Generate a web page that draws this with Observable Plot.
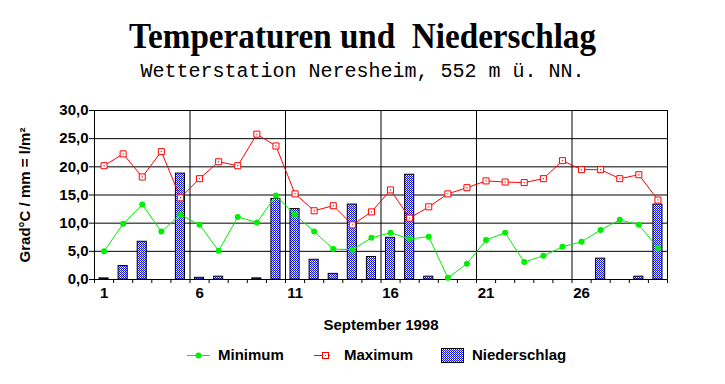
<!DOCTYPE html>
<html><head><meta charset="utf-8">
<script src="https://cdn.jsdelivr.net/npm/d3@7"></script>
<script src="https://cdn.jsdelivr.net/npm/@observablehq/plot@0.6"></script>
<style>
body{margin:0;background:#fff;width:725px;height:384px;overflow:hidden;font-family:"Liberation Sans",Arial,sans-serif;}
#head{position:relative;height:95px;width:725px;}
#title{position:absolute;top:18px;left:0;width:725px;text-align:center;}
#title span{display:inline-block;font-family:"Liberation Serif","Times New Roman",serif;font-weight:bold;font-size:36px;line-height:36px;white-space:pre;transform-origin:center;}
#sub{position:absolute;top:62px;left:0;width:725px;text-align:center;font-family:"Liberation Mono","Courier New",monospace;font-size:20px;line-height:20px;white-space:pre;}
#chart{height:240px;width:725px;}
#chart svg{display:block;}
#legend{position:relative;height:49px;width:725px;}
.lt{position:absolute;top:11px;font-weight:bold;font-size:15px;line-height:18px;white-space:pre;}
.sw{position:absolute;}
</style></head>
<body>
<div id="head"><div id="title"><span>Temperaturen und  Niederschlag</span></div><div id="sub">Wetterstation Neresheim, 552 m ü. NN.</div></div>
<div id="chart"></div>
<div id="legend">
  <svg class="sw" style="left:186px;top:14px" width="26" height="12"><line x1="1" y1="6.5" x2="24" y2="6.5" stroke="#00ee00"/><circle cx="12.5" cy="6.5" r="3" fill="#00ee00"/></svg>
  <div class="lt" style="left:218px">Minimum</div>
  <svg class="sw" style="left:313px;top:14px" width="20" height="12"><line x1="1" y1="6.5" x2="17" y2="6.5" stroke="red"/><rect x="9.5" y="3.5" width="6" height="6" fill="white" stroke="red"/><rect x="12" y="6" width="1" height="1" fill="red"/></svg>
  <div class="lt" style="left:344px">Maximum</div>
  <svg class="sw" style="left:440px;top:12px" width="25" height="17"><defs><pattern id="dotsL" patternUnits="userSpaceOnUse" width="2" height="2"><rect width="2" height="2" fill="#1010ff" shape-rendering="crispEdges"/><rect width="1" height="1" fill="#ffffff" shape-rendering="crispEdges"/><rect x="1" y="1" width="1" height="1" fill="#c8c8ff" shape-rendering="crispEdges"/></pattern></defs><rect x="1.5" y="1.5" width="22" height="14" fill="url(#dotsL)" stroke="black"/></svg>
  <div class="lt" style="left:472px">Niederschlag</div>
</div>
<script>
const days = [1,2,3,4,5,6,7,8,9,10,11,12,13,14,15,16,17,18,19,20,21,22,23,24,25,26,27,28,29,30];
const tMin = [5.0, 9.9, 13.3, 8.5, 11.5, 9.7, 5.1, 11.1, 10.1, 14.9, 11.5, 8.5, 5.4, 5.3, 7.4, 8.3, 7.2, 7.6, 0.3, 2.8, 7.0, 8.3, 3.1, 4.2, 5.8, 6.7, 8.8, 10.6, 9.7, 5.6];
const tMax = [20.2, 22.3, 18.2, 22.7, 14.5, 17.9, 20.9, 20.2, 25.8, 23.7, 15.2, 12.2, 13.1, 9.7, 12.0, 15.9, 10.9, 12.9, 15.2, 16.3, 17.5, 17.3, 17.2, 17.9, 21.1, 19.5, 19.5, 17.9, 18.6, 14.1];
const precip = [0.2, 2.4, 6.7, 0, 18.8, 0.3, 0.5, 0, 0.2, 14.3, 12.5, 3.5, 1.0, 13.3, 4.0, 7.4, 18.6, 0.5, 0, 0, 0, 0, 0, 0, 0, 0, 3.7, 0, 0.5, 13.3];
const yTicks = [0, 5, 10, 15, 20, 25, 30];
const dayLabels = [1, 6, 11, 16, 21, 26];
const weekLines = [5.5, 10.5, 15.5, 20.5, 25.5];
const boundaries = [0.5,1.5,2.5,3.5,4.5,5.5,6.5,7.5,8.5,9.5,10.5,11.5,12.5,13.5,14.5,15.5,16.5,17.5,18.5,19.5,20.5,21.5,22.5,23.5,24.5,25.5,26.5,27.5,28.5,29.5,30.5];
const yLabel = "Grad°C / mm = l/m²";
const xLabel = "September 1998";

const data = days.map((d, i) => ({day: d, min: tMin[i], max: tMax[i], p: precip[i]}));
const fmt = v => v.toFixed(1).replace(".", ",");

const chart = Plot.plot({
  width: 725, height: 240,
  marginTop: 15, marginBottom: 56, marginLeft: 94, marginRight: 58,
  style: {fontFamily: "Liberation Sans, Arial, sans-serif", fontSize: "15px", fontWeight: "bold", background: "white", color: "black", overflow: "visible"},
  x: {type: "linear", domain: [0.5, 30.5]},
  y: {domain: [0, 30]},
  marks: [
    Plot.ruleY(yTicks, {stroke: "black"}),
    Plot.ruleX(weekLines, {stroke: "black"}),
    Plot.rectY(data.filter(d => d.p > 0), {x1: d => d.day - 0.5, x2: d => d.day + 0.5, y1: 0, y2: "p", insetLeft: 5, insetRight: 5, fill: "url(#dots)", stroke: "black"}),
    Plot.frame({stroke: "black"}),
    Plot.axisY({ticks: yTicks, tickSize: 5, tickPadding: 1, tickFormat: fmt, label: null}),
    Plot.axisX({ticks: boundaries, tickSize: 4, tickFormat: () => "", label: null}),
    Plot.axisX({ticks: dayLabels, tickSize: 0, tickPadding: 8, tickFormat: d => String(d), label: null}),
    Plot.text([yLabel], {frameAnchor: "left", dx: -69, rotate: -90, textAnchor: "middle", lineAnchor: "middle", fontSize: 15}),
    Plot.text([xLabel], {frameAnchor: "bottom", dy: 46, textAnchor: "middle", lineAnchor: "middle", fontSize: 15, letterSpacing: 0.5}),
    Plot.line(data, {x: "day", y: "min", stroke: "#00ee00", strokeWidth: 1}),
    Plot.dot(data, {x: "day", y: "min", r: 3, fill: "#00ee00"}),
    Plot.line(data, {x: "day", y: "max", stroke: "red", strokeWidth: 1}),
    Plot.dot(data, {x: "day", y: "max", symbol: "square", r: 3.4, fill: "white", stroke: "red", strokeWidth: 1}),
    Plot.dot(data, {x: "day", y: "max", r: 0.7, fill: "red"})
  ]
});

const svg = d3.select(chart);
const pat = svg.insert("defs", ":first-child").append("pattern")
  .attr("id", "dots").attr("patternUnits", "userSpaceOnUse").attr("width", 2).attr("height", 2);
pat.append("rect").attr("width", 2).attr("height", 2).attr("fill", "#1010ff").attr("shape-rendering", "crispEdges");
pat.append("rect").attr("width", 1).attr("height", 1).attr("fill", "#ffffff").attr("shape-rendering", "crispEdges");
pat.append("rect").attr("x", 1).attr("y", 1).attr("width", 1).attr("height", 1).attr("fill", "#c8c8ff").attr("shape-rendering", "crispEdges");
document.getElementById("chart").appendChild(chart);

const t = document.querySelector("#title span");
const w = t.getBoundingClientRect().width;
t.style.transform = `scaleX(${467 / w})`;
</script>
</body></html>
